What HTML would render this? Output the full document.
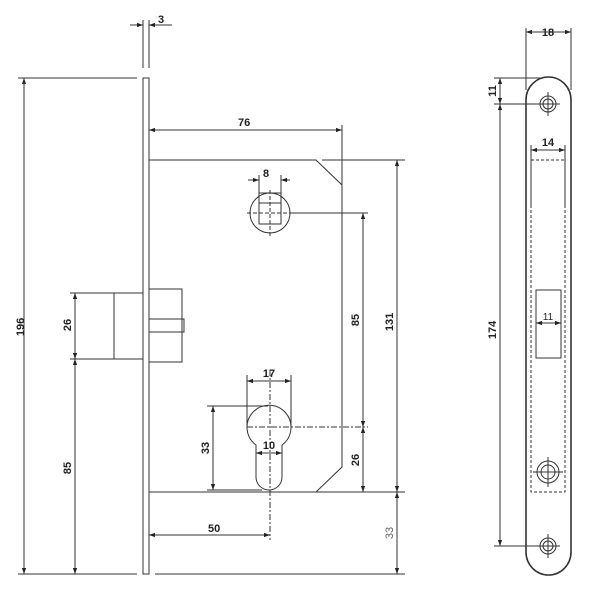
<!DOCTYPE html>
<html><head><style>html,body{margin:0;padding:0;background:#fff}svg{display:block}text{font-family:"Liberation Sans",sans-serif;font-weight:bold;font-size:11px;fill:#222}</style></head><body>
<svg width="600" height="600" viewBox="0 0 600 600" xmlns="http://www.w3.org/2000/svg">
<defs>
<marker id="a" viewBox="0 0 10 10" refX="10" refY="5" markerWidth="6" markerHeight="6" orient="auto-start-reverse"><path d="M0,1.5L10,5L0,8.5z" fill="#222"/></marker>
</defs>
<g stroke="#333" stroke-width="1" fill="none">
<!-- faceplate -->
<rect x="143" y="78" width="6" height="496"/>
<line x1="143" y1="20" x2="143" y2="68"/><line x1="149" y1="20" x2="149" y2="68"/>
<line x1="130" y1="25" x2="143" y2="25" marker-end="url(#a)"/><line x1="172" y1="25" x2="149" y2="25" marker-end="url(#a)"/>
<!-- 196 -->
<line x1="18" y1="78" x2="137" y2="78"/><line x1="18" y1="574" x2="137" y2="574"/>
<line x1="24" y1="574" x2="24" y2="78" marker-end="url(#a)"/><line x1="24" y1="78" x2="24" y2="574" marker-end="url(#a)"/>
<line x1="155" y1="574" x2="405" y2="574"/>
<!-- body -->
<polyline points="149,160 316,160 342,185 342,467 316,492 149,492"/>
<line x1="322" y1="160" x2="405" y2="160"/>
<line x1="316" y1="492" x2="405" y2="492"/>
<line x1="342" y1="125" x2="342" y2="185"/>
<line x1="149" y1="130" x2="342" y2="130" marker-start="url(#a)" marker-end="url(#a)"/>
<!-- spindle -->
<circle cx="270" cy="213" r="20"/>
<rect x="259" y="193" width="22" height="31"/>
<line x1="259" y1="203" x2="281" y2="203"/>
<line x1="270" y1="190" x2="270" y2="236" stroke-dasharray="4,2"/>
<line x1="247" y1="213" x2="290" y2="213" stroke-dasharray="4,2"/>
<line x1="290" y1="213" x2="368" y2="213"/>
<line x1="259" y1="175" x2="259" y2="193"/><line x1="281" y1="175" x2="281" y2="193"/>
<line x1="248" y1="180" x2="259" y2="180" marker-end="url(#a)"/><line x1="290" y1="180" x2="281" y2="180" marker-end="url(#a)"/>
<!-- 85 / 26 / 131 / 33 right -->
<line x1="363" y1="213" x2="363" y2="427" marker-start="url(#a)" marker-end="url(#a)"/>
<line x1="363" y1="427" x2="363" y2="492" marker-start="url(#a)" marker-end="url(#a)"/>
<line x1="397" y1="160" x2="397" y2="492" marker-start="url(#a)" marker-end="url(#a)"/>
<line x1="397" y1="492" x2="397" y2="574" marker-start="url(#a)" marker-end="url(#a)"/>
<!-- keyhole -->
<path d="M256,445 A22,22 0 1 1 282,445 L282,477 A13,13 0 0 1 256,477 Z"/>
<line x1="270" y1="370" x2="270" y2="540" stroke-dasharray="6,2,2,2"/>
<line x1="247" y1="427" x2="368" y2="427" stroke-dasharray="6,2,2,2"/>
<line x1="247" y1="375" x2="247" y2="427"/><line x1="291" y1="375" x2="291" y2="427"/>
<line x1="247" y1="381" x2="291" y2="381" marker-start="url(#a)" marker-end="url(#a)"/>
<line x1="256" y1="453" x2="282" y2="453" marker-start="url(#a)" marker-end="url(#a)"/>
<line x1="207" y1="406" x2="268" y2="406"/><line x1="207" y1="490" x2="262" y2="490"/>
<line x1="213" y1="406" x2="213" y2="490" marker-start="url(#a)" marker-end="url(#a)"/>
<line x1="149" y1="535" x2="270" y2="535" marker-start="url(#a)" marker-end="url(#a)"/>
<!-- latch -->
<rect x="149" y="289" width="33" height="73"/>
<rect x="149" y="319" width="35" height="13"/>
<line x1="70" y1="293" x2="143" y2="293"/><line x1="70" y1="359" x2="143" y2="359"/>
<line x1="114" y1="293" x2="114" y2="359"/>
<line x1="75" y1="293" x2="75" y2="359" marker-start="url(#a)" marker-end="url(#a)"/>
<line x1="75" y1="359" x2="75" y2="574" marker-start="url(#a)" marker-end="url(#a)"/>
<!-- strike plate -->
<path d="M526,100 A22.5,23 0 0 1 571,100 L571,552 A22.5,23 0 0 1 526,552 Z" stroke-width="1.6"/>
<line x1="526" y1="28" x2="526" y2="90"/><line x1="571" y1="28" x2="571" y2="90"/>
<line x1="526" y1="32" x2="571" y2="32" marker-start="url(#a)" marker-end="url(#a)"/>
<line x1="494" y1="78" x2="540" y2="78"/>
<line x1="494" y1="104" x2="560" y2="104"/>
<line x1="494" y1="546" x2="560" y2="546"/>
<line x1="500" y1="78" x2="500" y2="104" marker-start="url(#a)" marker-end="url(#a)"/>
<line x1="500" y1="104" x2="500" y2="546" marker-start="url(#a)" marker-end="url(#a)"/>
<line x1="531" y1="145" x2="531" y2="205"/><line x1="565" y1="145" x2="565" y2="205"/>
<line x1="531" y1="150" x2="565" y2="150" marker-start="url(#a)" marker-end="url(#a)"/>
<g stroke-dasharray="3,2">
<line x1="531" y1="160" x2="565" y2="160"/>
<polyline points="531,205 531,492 565,492 565,205"/>
</g>
<rect x="536" y="290" width="25" height="68"/>
<line x1="536" y1="323" x2="561" y2="323" marker-start="url(#a)" marker-end="url(#a)"/>
<g>
<circle cx="548" cy="104" r="8"/><circle cx="548" cy="104" r="5"/>
<line x1="536" y1="104" x2="560" y2="104"/><line x1="548" y1="92" x2="548" y2="116"/>
<circle cx="548" cy="472" r="11"/><circle cx="548" cy="472" r="7"/>
<line x1="533" y1="472" x2="563" y2="472"/><line x1="548" y1="457" x2="548" y2="487"/>
<circle cx="548" cy="546" r="8"/><circle cx="548" cy="546" r="5"/>
<line x1="548" y1="534" x2="548" y2="558"/>
</g>
</g>
<!-- labels -->
<text x="158" y="23">3</text>
<text x="238" y="126">76</text>
<text x="266" y="177" text-anchor="middle">8</text>
<text x="269" y="377" text-anchor="middle">17</text>
<text x="269" y="449" text-anchor="middle">10</text>
<text x="208" y="532">50</text>
<text transform="translate(24,327) rotate(-90)" text-anchor="middle">196</text>
<text transform="translate(75,325) rotate(-90)" text-anchor="middle" dx="0" dy="-4">26</text>
<text transform="translate(75,468) rotate(-90)" text-anchor="middle" dy="-4">85</text>
<text transform="translate(213,448) rotate(-90)" text-anchor="middle" dy="-4">33</text>
<text transform="translate(363,320) rotate(-90)" text-anchor="middle" dy="-4">85</text>
<text transform="translate(363,460) rotate(-90)" text-anchor="middle" dy="-4">26</text>
<text transform="translate(397,322) rotate(-90)" text-anchor="middle" dy="-4">131</text>
<text transform="translate(397,533) rotate(-90)" text-anchor="middle" dy="-4" style="font-weight:normal;fill:#666">33</text>
<text x="548" y="36" text-anchor="middle">18</text>
<text transform="translate(500,91) rotate(-90)" text-anchor="middle" dy="-4">11</text>
<text transform="translate(500,330) rotate(-90)" text-anchor="middle" dy="-4">174</text>
<text x="548" y="146" text-anchor="middle">14</text>
<text x="548" y="320" text-anchor="middle" style="font-weight:normal;font-size:10px">11</text>
</svg>
</body></html>
